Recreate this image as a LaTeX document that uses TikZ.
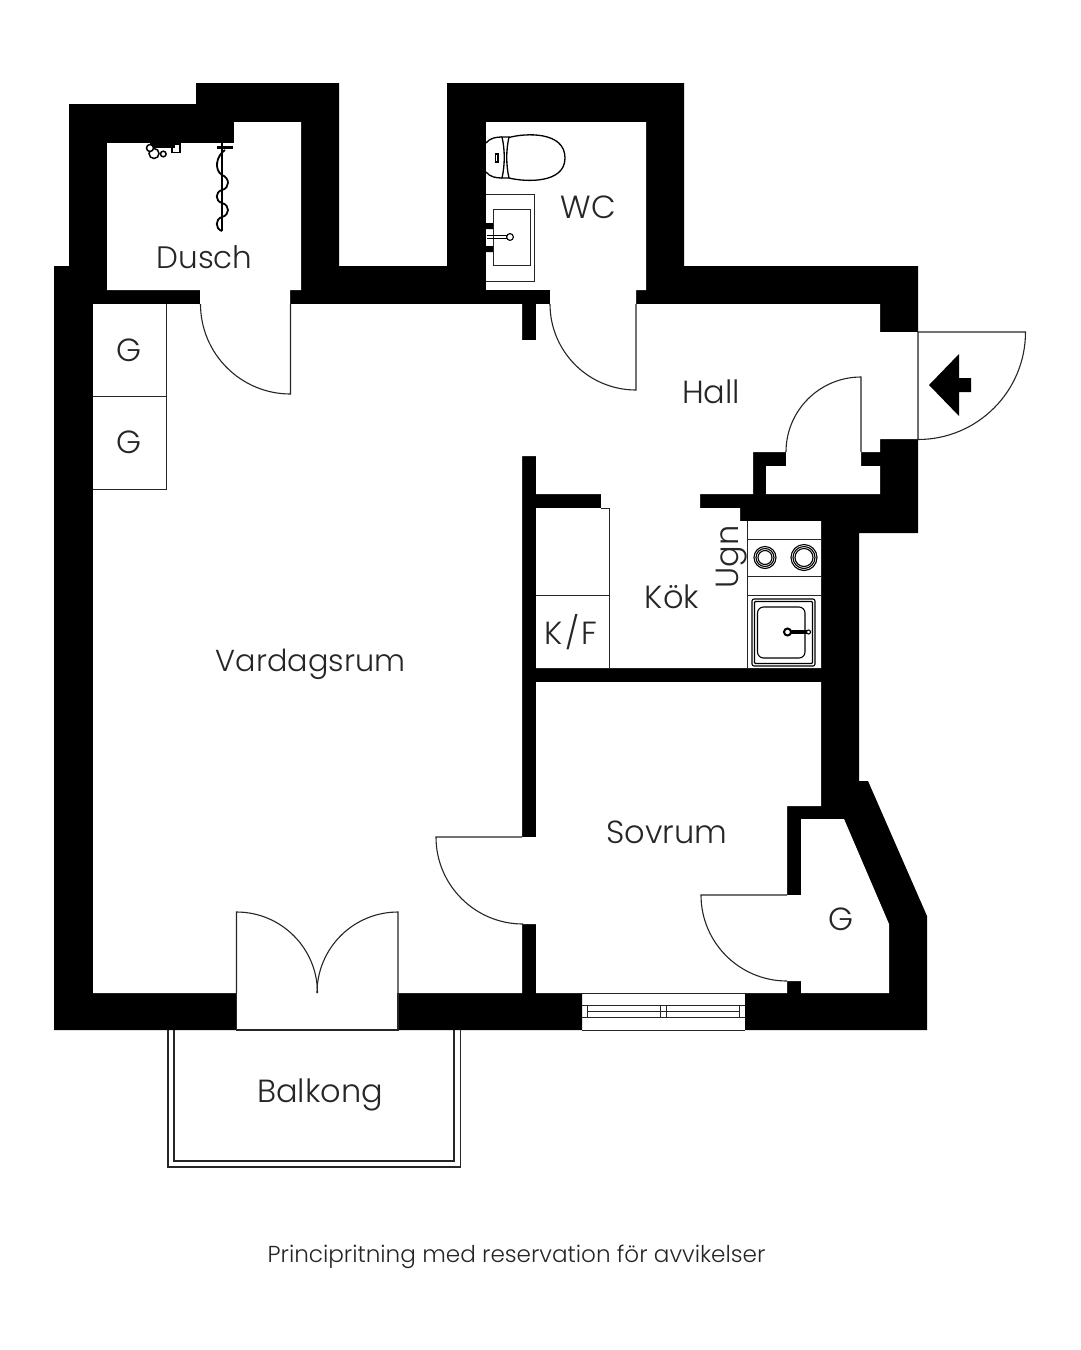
\documentclass[tikz,border=0pt]{standalone}
\usepackage{fontspec}
\setmainfont{Poppins Light}
\usetikzlibrary{shapes.geometric}
\tikzset{
    wall/.style={fill=black},
    room/.style={fill=white},
    thin line/.style={draw=black!85, line width=1pt},
    fixture/.style={draw=black, line width=1.1pt},
    label/.style={inner sep=0pt, font=\fontsize{32}{32}\selectfont, text=black!85},
    doorleaf/.style={draw=black!85, line width=1.1pt}
}
\begin{document}
\begin{tikzpicture}[x=1pt, y=-1pt]
    \useasboundingbox (0,0) rectangle (1080,1350);

    \fill[wall] (54,266) -- (69,266) -- (69,104) -- (196,104) -- (196,83) -- (339,83) -- (339,266) -- (447,266) -- (447,83) -- (684,83) -- (684,266) -- (918,266) -- (918,332) -- (918,439) -- (918,533) -- (859,533) -- (859,781) -- (868,781) -- (927,916) -- (927,1030) -- (745,1030) -- (745,993) -- (582,993) -- (582,1030) -- (398,1030) -- (398,993) -- (236,993) -- (236,1030) -- (54,1030) -- cycle;

    \fill[room] (107,143) -- (234,143) -- (234,122) -- (301,122) -- (301,290) -- (290,290) -- (290,304) -- (522,304) -- (522,340) -- (536,340) -- (536,304) -- (550,304) -- (550,290) -- (486,290) -- (486,122) -- (646,122) -- (646,290) -- (636,290) -- (636,304) -- (880,304) -- (880,332) -- (918,332) -- (918,439) -- (880,439) -- (880,452) -- (861,452) -- (861,466) -- (880,466) -- (880,494) -- (766,494) -- (766,466) -- (786,466) -- (786,452) -- (753,452) -- (753,494) -- (700,494) -- (700,508) -- (740,508) -- (740,521) -- (821,521) -- (821,668) -- (536,668) -- (536,508) -- (601,508) -- (601,494) -- (536,494) -- (536,456) -- (522,456) -- (522,837) -- (536,837) -- (536,682) -- (821,682) -- (821,806) -- (787,806) -- (787,895) -- (801,895) -- (801,819) -- (844,819) -- (889,924) -- (889,993) -- (801,993) -- (801,981) -- (787,981) -- (787,993) -- (536,993) -- (536,924) -- (522,924) -- (522,993) -- (398,993) -- (398,1000) -- (236,1000) -- (236,993) -- (93,993) -- (93,304) -- (200,304) -- (200,290) -- (107,290) -- cycle;
    \fill[wall] (486,290) rectangle (550,304);

    % doors
    \draw[doorleaf] (290.5,304) -- (290.5,394) arc[start angle=90, end angle=180, radius=90];
    \draw[doorleaf] (636,304) -- (636,390) arc[start angle=90, end angle=180, radius=86];
    \draw[doorleaf] (861,452) -- (861,377) arc[start angle=270, end angle=180, radius=75];
    \draw[doorleaf] (918,439) -- (918,332) -- (1025.5,332) arc[start angle=0, end angle=90, radius=107.5];
    \draw[doorleaf] (522,837) -- (436,837) arc[start angle=180, end angle=90, radius=87];
    \draw[doorleaf] (787,895) -- (701,895) arc[start angle=180, end angle=90, radius=86];
    \draw[doorleaf] (236.5,993) -- (236.5,912) arc[start angle=270, end angle=360, radius=81];
    \draw[doorleaf] (398,993) -- (398,912) arc[start angle=270, end angle=180, radius=81];
    \fill[wall] (929,385) -- (959,354) -- (959,378) -- (971,378) -- (971,392) -- (959,392) -- (959,416) -- cycle;

    % balcony
    \draw[doorleaf, line width=1.4pt] (168,1030) -- (168,1167) -- (460.5,1167) -- (460.5,1030);
    \draw[doorleaf, line width=1.4pt] (174,1030) -- (174,1161) -- (454,1161) -- (454,1030);
    \draw[doorleaf] (236.5,993) -- (236.5,1030) -- (398,1030) -- (398,993);

    % window
    \draw[thin line] (582,993) -- (745,993) (582,1030) -- (745,1030);
    \draw[thin line] (582,1005) -- (745,1005) (582,1017) -- (745,1017);
    \draw[thin line] (587,1011) -- (739,1011);
    \foreach \xpos in {587,660,666,739} {
        \draw[thin line] (\xpos,1005) -- (\xpos,1017);
    }

    % closets
    \draw[thin line] (93,396) -- (166.5,396) (93,489) -- (166.5,489) (166.5,304) -- (166.5,489);
    \draw[thin line] (536,595) -- (609,595) (601,508) -- (609,508) -- (609,668);
    \draw[thin line] (747,521) -- (747,668) (747,539) -- (821,539) (747,576) -- (821,576) (747,595) -- (821,595);

    % kitchen
    \foreach \rad in {7,9,11} {
        \draw[fixture] (765,557.5) circle[radius=\rad];
    }
    \foreach \rad in {9,11,13} {
        \draw[fixture] (804,557.5) circle[radius=\rad];
    }
    \draw[fixture, rounded corners=2pt] (752,599) rectangle (815,666);
    \draw[fixture, rounded corners=1pt] (754.5,601.5) rectangle (812.5,663.5);
    \draw[fixture, rounded corners=6pt] (757.5,607) rectangle (805,658);
    \draw[fixture, line width=2pt] (787.5,632) circle[radius=3.5];
    \draw[fixture] (791,631) -- (808,631) (791,633) -- (808,633);
    \draw[fixture, fill=white] (808.5,632) circle[radius=2];

    % wc
    \draw[fixture, line width=1.3pt] (509,137.5) .. controls (525,133) and (565,131) .. (565,158) .. controls (565,184) and (525,182) .. (509,178);
    \draw[fixture, line width=1.3pt] (502,137) .. controls (505,150) and (505,165) .. (502,178) -- (509,178) .. controls (506,165) and (506,150) .. (509,137) -- cycle;
    \draw[fixture, line width=1.3pt] (486,143) .. controls (490,138) and (496,137) .. (502,137) (486,172) .. controls (490,177) and (496,178) .. (502,178);
    \draw[fixture, line width=1.2pt] (495.5,154) rectangle (498,162);
    \draw[thin line] (486,194) -- (534.5,194) -- (534.5,281) -- (486,281);
    \draw[thin line] (493,209.5) rectangle (530.5,265);
    \fill[wall] (486,223) rectangle (493,229) (486,246) rectangle (493,252);
    \draw[fixture] (487,235.5) -- (507,235.5) (487,238.5) -- (507,238.5);
    \draw[fixture, fill=white] (510,237) circle[radius=3.4];

    % shower
    \fill[wall] (217,145.5) rectangle (233,148.5);
    \fill[wall] (220.8,143) rectangle (223.4,231);
    \draw[fixture, line width=1.8pt] (225,150) .. controls (216,156) and (214,170) .. (222,175) .. controls (230,178) and (230,188) .. (222,190) .. controls (215,192) and (215,201) .. (222,203) .. controls (230,205) and (230,215) .. (222,217) .. controls (215,219) and (215,229) .. (222,231);
    \fill[wall] (150,143) rectangle (175,148);
    \draw[fixture, line width=1.3pt] (172,144) rectangle (180,152.5);
    \draw[fixture, fill=white, line width=1.5pt] (163.3,154) circle[radius=2.8];
    \draw[fixture, fill=white, line width=1.5pt] (154,153.5) circle[radius=5];
    \draw[fixture, fill=white, line width=1.5pt] (150,148) circle[radius=3.5];

    % labels
    \node[label, font=\fontsize{31}{31}\selectfont] (dusch) at (204.5,257.5) {Dusch};
    \node[label] (wc) at (588.5,207.5) {WC};
    \node[label] (hall) at (711,392) {Hall};
    \node[label] (garderobA) at (129,350.5) {G};
    \node[label] (garderobB) at (129,442.5) {G};
    \node[label, font=\fontsize{30.3}{30.3}\selectfont] (vardagsrum) at (310.5,664) {Vardagsrum};
    \node[label] (kok) at (672,597) {Kök};
    \node[label, rotate=90] (ugn) at (732,557) {Ugn};
    \node[label] (kf) at (571,632) {K\kern2.5pt/\kern2.5pt F};
    \node[label] (sovrum) at (667,832) {Sovrum};
    \node[label] (garderobC) at (841,919.5) {G};
    \node[label] (balkong) at (320,1094.5) {Balkong};
    \node[label, font=\fontsize{23.1}{23.1}\selectfont] (note) at (516.5,1257) {Principritning med reservation för avvikelser};
\end{tikzpicture}
\end{document}
